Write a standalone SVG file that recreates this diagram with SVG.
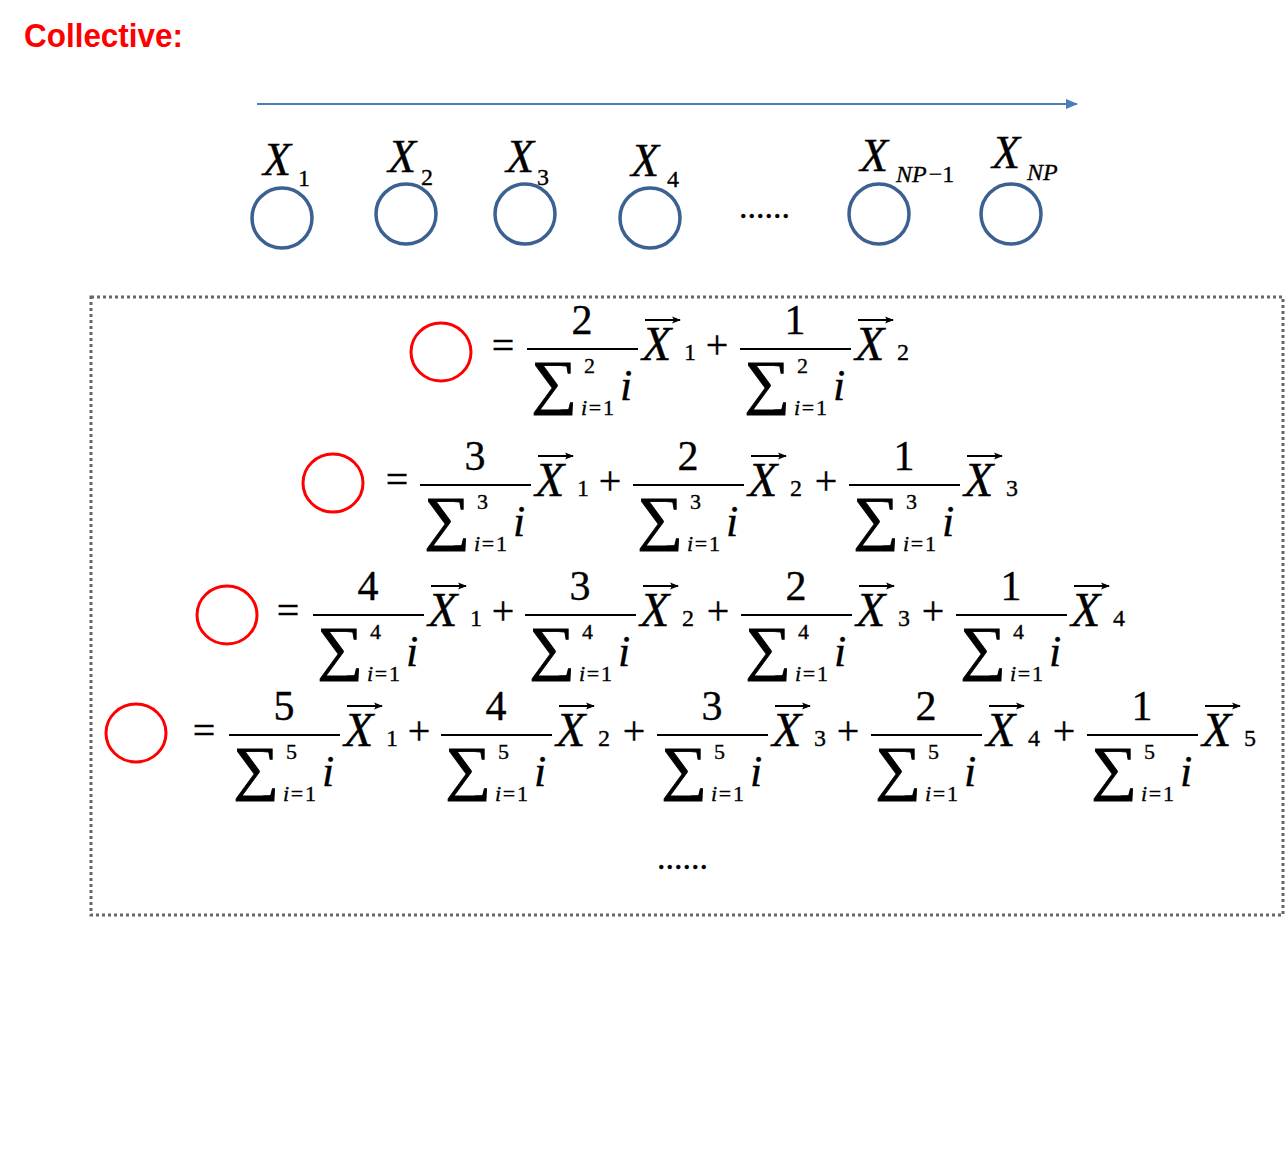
<svg xmlns="http://www.w3.org/2000/svg" width="1286" height="1168" viewBox="0 0 1286 1168">
<style>
text{font-family:"Liberation Serif","Times New Roman",serif;fill:#000;stroke:#000;stroke-width:0.35}
.title{font-family:"Liberation Sans",Arial,sans-serif;font-weight:bold;font-size:33px;fill:#FF0000;stroke:none}
.node{fill:none;stroke:#3C6090;stroke-width:3.5}
.red{fill:none;stroke:#FF0000;stroke-width:3}
.lbl{font-style:italic;font-size:46px}
.lsub{font-size:24px}
.num{font-size:42px;text-anchor:middle}
.bar{stroke:#000;stroke-width:2}
.sig{font-size:60px;stroke-width:0.9}
.lim{font-size:22px}
.ii{font-style:italic;font-size:44px}
.X{font-style:italic;font-size:48px}
.sub{font-size:24px}
.op{font-size:40px;text-anchor:middle}
.vec{stroke:#000;stroke-width:2;fill:none;marker-end:url(#vh)}
.dots{font-size:34px}
</style>
<defs>
<marker id="ah" markerWidth="12" markerHeight="10" refX="11" refY="5" orient="auto" markerUnits="userSpaceOnUse">
<path d="M0,0 L12,5 L0,10 Z" fill="#4A7EBB"/>
</marker>
<marker id="vh" markerWidth="9" markerHeight="8" refX="8" refY="4" orient="auto" markerUnits="userSpaceOnUse">
<path d="M0,0.5 L9,4 L0,7.5 L2,4 Z" fill="#000"/>
</marker>
<g id="sg"><text class="sig" transform="translate(4,53) scale(1.07,1)">∑</text></g>
</defs>
<rect width="1286" height="1168" fill="#fff"/>
<text class="title" x="24" y="47" textLength="159" lengthAdjust="spacingAndGlyphs">Collective:</text>
<g id="connectors">
<line x1="257" y1="104" x2="1077" y2="104" stroke="#4A7EBB" stroke-width="2" marker-end="url(#ah)"/>
</g>
<g id="node-x1"><ellipse class="node" cx="282" cy="218" rx="30" ry="30"/><text class="lbl" x="263" y="175">X</text><text class="lsub" x="298" y="186">1</text></g>
<g id="node-x2"><ellipse class="node" cx="406" cy="214" rx="30" ry="30"/><text class="lbl" x="388" y="172">X</text><text class="lsub" x="421" y="185">2</text></g>
<g id="node-x3"><ellipse class="node" cx="525" cy="214" rx="30" ry="30"/><text class="lbl" x="506" y="172">X</text><text class="lsub" x="537" y="185">3</text></g>
<g id="node-x4"><ellipse class="node" cx="650" cy="218" rx="30" ry="30"/><text class="lbl" x="631" y="176">X</text><text class="lsub" x="667" y="187">4</text></g>
<text class="dots" x="739" y="218">......</text>
<g id="node-xnp1"><ellipse class="node" cx="879" cy="214" rx="30" ry="30"/><text class="lbl" x="860" y="171">X</text><text class="lsub" x="896" y="182"><tspan font-style="italic">NP</tspan><tspan dx="2">−1</tspan></text></g>
<g id="node-xnp"><ellipse class="node" cx="1011" cy="214" rx="30" ry="30"/><text class="lbl" x="992" y="168">X</text><text class="lsub" x="1027" y="180" font-style="italic">NP</text></g>
<rect x="91" y="297" width="1192" height="618" fill="none" stroke="#666" stroke-width="3" stroke-dasharray="3 3"/>
<g id="row1">
<ellipse class="red" cx="441" cy="352" rx="30" ry="29"/>
<text class="op" x="503" y="359">=</text>
<g transform="translate(527,349)"><text class="num" x="55" y="-15">2</text><line class="bar" x1="0" y1="0" x2="111" y2="0"/><use href="#sg"/><text class="lim" x="57" y="24">2</text><text class="lim" x="54" y="66" textLength="33" lengthAdjust="spacing"><tspan font-style="italic">i</tspan>=1</text><text class="ii" x="93" y="51">i</text><path class="vec" d="M118,-29 H153"/><text class="X" x="115" y="11">X</text><text class="sub" x="157" y="11">1</text><text class="op" x="190" y="9">+</text></g>
<g transform="translate(740,349)"><text class="num" x="55" y="-15">1</text><line class="bar" x1="0" y1="0" x2="111" y2="0"/><use href="#sg"/><text class="lim" x="57" y="24">2</text><text class="lim" x="54" y="66" textLength="33" lengthAdjust="spacing"><tspan font-style="italic">i</tspan>=1</text><text class="ii" x="93" y="51">i</text><path class="vec" d="M118,-29 H153"/><text class="X" x="115" y="11">X</text><text class="sub" x="157" y="11">2</text></g>
</g>
<g id="row2">
<ellipse class="red" cx="333" cy="483" rx="30" ry="29"/>
<text class="op" x="397" y="493">=</text>
<g transform="translate(420,485)"><text class="num" x="55" y="-15">3</text><line class="bar" x1="0" y1="0" x2="111" y2="0"/><use href="#sg"/><text class="lim" x="57" y="24">3</text><text class="lim" x="54" y="66" textLength="33" lengthAdjust="spacing"><tspan font-style="italic">i</tspan>=1</text><text class="ii" x="93" y="51">i</text><path class="vec" d="M118,-29 H153"/><text class="X" x="115" y="11">X</text><text class="sub" x="157" y="11">1</text><text class="op" x="190" y="9">+</text></g>
<g transform="translate(633,485)"><text class="num" x="55" y="-15">2</text><line class="bar" x1="0" y1="0" x2="111" y2="0"/><use href="#sg"/><text class="lim" x="57" y="24">3</text><text class="lim" x="54" y="66" textLength="33" lengthAdjust="spacing"><tspan font-style="italic">i</tspan>=1</text><text class="ii" x="93" y="51">i</text><path class="vec" d="M118,-29 H153"/><text class="X" x="115" y="11">X</text><text class="sub" x="157" y="11">2</text><text class="op" x="193" y="9">+</text></g>
<g transform="translate(849,485)"><text class="num" x="55" y="-15">1</text><line class="bar" x1="0" y1="0" x2="111" y2="0"/><use href="#sg"/><text class="lim" x="57" y="24">3</text><text class="lim" x="54" y="66" textLength="33" lengthAdjust="spacing"><tspan font-style="italic">i</tspan>=1</text><text class="ii" x="93" y="51">i</text><path class="vec" d="M118,-29 H153"/><text class="X" x="115" y="11">X</text><text class="sub" x="157" y="11">3</text></g>
</g>
<g id="row3">
<ellipse class="red" cx="227" cy="615" rx="30" ry="29"/>
<text class="op" x="288" y="624">=</text>
<g transform="translate(313,615)"><text class="num" x="55" y="-15">4</text><line class="bar" x1="0" y1="0" x2="111" y2="0"/><use href="#sg"/><text class="lim" x="57" y="24">4</text><text class="lim" x="54" y="66" textLength="33" lengthAdjust="spacing"><tspan font-style="italic">i</tspan>=1</text><text class="ii" x="93" y="51">i</text><path class="vec" d="M118,-29 H153"/><text class="X" x="115" y="11">X</text><text class="sub" x="157" y="11">1</text><text class="op" x="190" y="9">+</text></g>
<g transform="translate(525,615)"><text class="num" x="55" y="-15">3</text><line class="bar" x1="0" y1="0" x2="111" y2="0"/><use href="#sg"/><text class="lim" x="57" y="24">4</text><text class="lim" x="54" y="66" textLength="33" lengthAdjust="spacing"><tspan font-style="italic">i</tspan>=1</text><text class="ii" x="93" y="51">i</text><path class="vec" d="M118,-29 H153"/><text class="X" x="115" y="11">X</text><text class="sub" x="157" y="11">2</text><text class="op" x="193" y="9">+</text></g>
<g transform="translate(741,615)"><text class="num" x="55" y="-15">2</text><line class="bar" x1="0" y1="0" x2="111" y2="0"/><use href="#sg"/><text class="lim" x="57" y="24">4</text><text class="lim" x="54" y="66" textLength="33" lengthAdjust="spacing"><tspan font-style="italic">i</tspan>=1</text><text class="ii" x="93" y="51">i</text><path class="vec" d="M118,-29 H153"/><text class="X" x="115" y="11">X</text><text class="sub" x="157" y="11">3</text><text class="op" x="192" y="9">+</text></g>
<g transform="translate(956,615)"><text class="num" x="55" y="-15">1</text><line class="bar" x1="0" y1="0" x2="111" y2="0"/><use href="#sg"/><text class="lim" x="57" y="24">4</text><text class="lim" x="54" y="66" textLength="33" lengthAdjust="spacing"><tspan font-style="italic">i</tspan>=1</text><text class="ii" x="93" y="51">i</text><path class="vec" d="M118,-29 H153"/><text class="X" x="115" y="11">X</text><text class="sub" x="157" y="11">4</text></g>
</g>
<g id="row4">
<ellipse class="red" cx="136" cy="733" rx="30" ry="29"/>
<text class="op" x="204" y="744">=</text>
<g transform="translate(229,735)"><text class="num" x="55" y="-15">5</text><line class="bar" x1="0" y1="0" x2="111" y2="0"/><use href="#sg"/><text class="lim" x="57" y="24">5</text><text class="lim" x="54" y="66" textLength="33" lengthAdjust="spacing"><tspan font-style="italic">i</tspan>=1</text><text class="ii" x="93" y="51">i</text><path class="vec" d="M118,-29 H153"/><text class="X" x="115" y="11">X</text><text class="sub" x="157" y="11">1</text><text class="op" x="190" y="9">+</text></g>
<g transform="translate(441,735)"><text class="num" x="55" y="-15">4</text><line class="bar" x1="0" y1="0" x2="111" y2="0"/><use href="#sg"/><text class="lim" x="57" y="24">5</text><text class="lim" x="54" y="66" textLength="33" lengthAdjust="spacing"><tspan font-style="italic">i</tspan>=1</text><text class="ii" x="93" y="51">i</text><path class="vec" d="M118,-29 H153"/><text class="X" x="115" y="11">X</text><text class="sub" x="157" y="11">2</text><text class="op" x="193" y="9">+</text></g>
<g transform="translate(657,735)"><text class="num" x="55" y="-15">3</text><line class="bar" x1="0" y1="0" x2="111" y2="0"/><use href="#sg"/><text class="lim" x="57" y="24">5</text><text class="lim" x="54" y="66" textLength="33" lengthAdjust="spacing"><tspan font-style="italic">i</tspan>=1</text><text class="ii" x="93" y="51">i</text><path class="vec" d="M118,-29 H153"/><text class="X" x="115" y="11">X</text><text class="sub" x="157" y="11">3</text><text class="op" x="191" y="9">+</text></g>
<g transform="translate(871,735)"><text class="num" x="55" y="-15">2</text><line class="bar" x1="0" y1="0" x2="111" y2="0"/><use href="#sg"/><text class="lim" x="57" y="24">5</text><text class="lim" x="54" y="66" textLength="33" lengthAdjust="spacing"><tspan font-style="italic">i</tspan>=1</text><text class="ii" x="93" y="51">i</text><path class="vec" d="M118,-29 H153"/><text class="X" x="115" y="11">X</text><text class="sub" x="157" y="11">4</text><text class="op" x="193" y="9">+</text></g>
<g transform="translate(1087,735)"><text class="num" x="55" y="-15">1</text><line class="bar" x1="0" y1="0" x2="111" y2="0"/><use href="#sg"/><text class="lim" x="57" y="24">5</text><text class="lim" x="54" y="66" textLength="33" lengthAdjust="spacing"><tspan font-style="italic">i</tspan>=1</text><text class="ii" x="93" y="51">i</text><path class="vec" d="M118,-29 H153"/><text class="X" x="115" y="11">X</text><text class="sub" x="157" y="11">5</text></g>
</g>
<text class="dots" x="657" y="869">......</text>
</svg>
